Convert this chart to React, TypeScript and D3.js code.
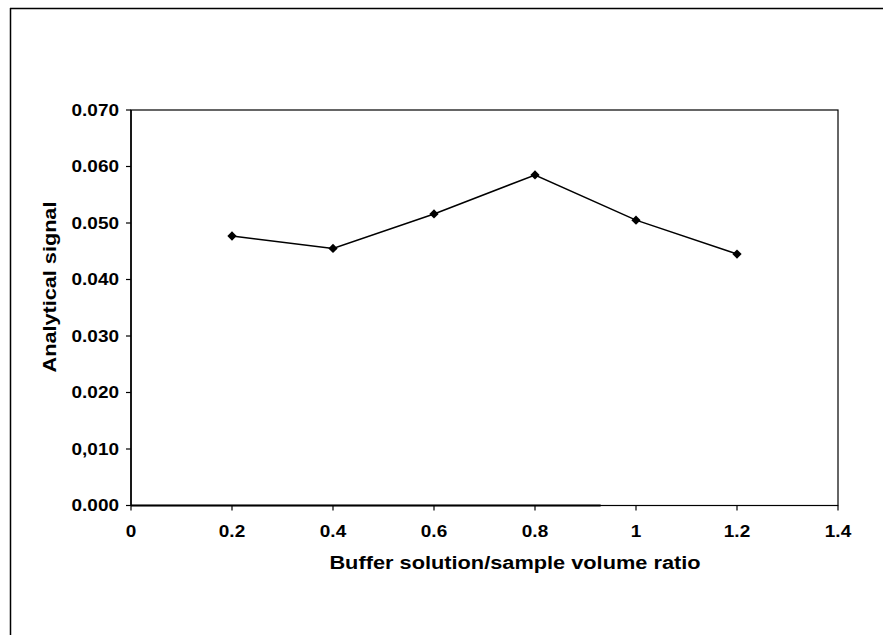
import React from "react";
import * as d3 from "d3";

const ratios = [0.2, 0.4, 0.6, 0.8, 1.0, 1.2];
const signals = [0.0477, 0.0455, 0.0516, 0.0585, 0.0505, 0.0445];
const xTicks = [0, 0.2, 0.4, 0.6, 0.8, 1.0, 1.2, 1.4];
const xTickLabels = ["0", "0.2", "0.4", "0.6", "0.8", "1", "1.2", "1.4"];
const yTicks = [0, 0.01, 0.02, 0.03, 0.04, 0.05, 0.06, 0.07];
const yTickLabels = ["0.000", "0,010", "0.020", "0.030", "0.040", "0.050", "0.060", "0.070"];

const W = 883, H = 635;
const L = 131, R = 838, T = 110, B = 505.5;
const font = "'Liberation Sans', Arial, sans-serif";
const SX = 1.15;

export default function App() {
  const x = d3.scaleLinear().domain([0, 1.4]).range([L, R]);
  const y = d3.scaleLinear().domain([0, 0.07]).range([B, T]);
  const line = d3.line<number>().x((_, i) => x(ratios[i])).y((d) => y(d));
  const diamond = d3.symbol().type(d3.symbolDiamond2).size(55)();

  return (
    <svg width={W} height={H} style={{ position: "absolute", left: 0, top: 0, background: "#fff" }}>
      <rect x={0} y={0} width={W} height={H} fill="#fff" />
      {/* outer frame */}
      <line x1={10} y1={8.5} x2={W} y2={8.5} stroke="#000" strokeWidth={1.5} />
      <line x1={10.5} y1={8} x2={10.5} y2={H} stroke="#000" strokeWidth={1.5} />
      {/* plot frame */}
      <rect x={L} y={T} width={R - L} height={B - T} fill="none" stroke="#000" strokeWidth={1.2} />
      <line x1={L} y1={B} x2={x(0.93)} y2={B} stroke="#000" strokeWidth={2.2} />
      <line x1={L} y1={T} x2={L} y2={B} stroke="#000" strokeWidth={1.5} />
      {/* y ticks */}
      {yTicks.map((t, i) => (
        <g key={"y" + i}>
          <line x1={L - 5} x2={L} y1={y(t)} y2={y(t)} stroke="#000" strokeWidth={1.2} />
          <text transform={`translate(119,${y(t)}) scale(${SX},1)`} dy="0.36em" textAnchor="end" fontFamily={font} fontWeight="bold" fontSize={16.5}>
            {yTickLabels[i]}
          </text>
        </g>
      ))}
      {/* x ticks */}
      {xTicks.map((t, i) => (
        <g key={"x" + i}>
          <line x1={x(t)} x2={x(t)} y1={B} y2={B + 5} stroke="#000" strokeWidth={1.2} />
          <text transform={`translate(${x(t)},537) scale(${SX},1)`} textAnchor="middle" fontFamily={font} fontWeight="bold" fontSize={16.5}>
            {xTickLabels[i]}
          </text>
        </g>
      ))}
      {/* axis titles */}
      <text transform={`translate(${(330 + 700) / 2},569) scale(1.146,1)`} textAnchor="middle" fontFamily={font} fontWeight="bold" fontSize={19}>
        Buffer solution/sample volume ratio
      </text>
      <text transform={`translate(56,287) rotate(-90) scale(1.14,1)`} textAnchor="middle" fontFamily={font} fontWeight="bold" fontSize={19}>
        Analytical signal
      </text>
      {/* series */}
      <path d={line(signals) || ""} fill="none" stroke="#000" strokeWidth={1.5} />
      {signals.map((v, i) => (
        <path key={"m" + i} d={diamond || ""} transform={`translate(${x(ratios[i])},${y(v)})`} fill="#000" />
      ))}
    </svg>
  );
}
